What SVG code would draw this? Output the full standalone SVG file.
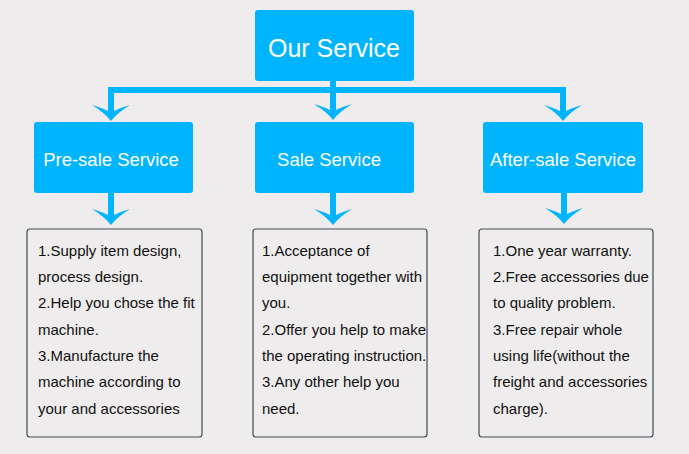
<svg xmlns="http://www.w3.org/2000/svg" width="689" height="454" viewBox="0 0 689 454">
<defs>
<style>
.bg{fill:#eeecec}
.blue{fill:#00b4fd}
.box{fill:#00b4fd}
.hd{font-family:"Liberation Sans",Arial,sans-serif;fill:#ffffff;text-anchor:middle}
.card{fill:#eeecec;stroke:#444a55;stroke-width:1.2}
.tx{font-family:"Liberation Sans",Arial,sans-serif;font-size:15px;fill:#111111}
</style>
<path id="ah" d="M0,0 Q-6,-8 -19,-16 Q-9,-13 -3,-10 L3,-10 Q9,-13 19,-16 Q6,-8 0,0 Z"/>
</defs>
<rect class="bg" x="0" y="0" width="689" height="454"/>
<g id="connectors" class="blue">
<rect x="330" y="80" width="6" height="10"/>
<rect x="108" y="87" width="458" height="6"/>
<rect x="108" y="87" width="6" height="26"/>
<rect x="330" y="87" width="6" height="26"/>
<rect x="560" y="87" width="6" height="26"/>
<use href="#ah" transform="translate(111,121)"/>
<use href="#ah" transform="translate(333,120)"/>
<use href="#ah" transform="translate(563,121)"/>
<rect x="108" y="192" width="6" height="24"/>
<rect x="330" y="192" width="6" height="24"/>
<rect x="561" y="192" width="6" height="24"/>
<use href="#ah" transform="translate(111,225)"/>
<use href="#ah" transform="translate(333,225)"/>
<use href="#ah" transform="translate(564,224)"/>
</g>
<g id="our-service">
<rect class="box" x="255" y="10" width="159" height="71" rx="3"/>
<text class="hd" x="334" y="57" font-size="25">Our Service</text>
</g>
<g id="pre-sale">
<rect class="box" x="34" y="122" width="159" height="71" rx="3"/>
<text class="hd" x="111" y="166" font-size="18.5">Pre-sale Service</text>
</g>
<g id="sale">
<rect class="box" x="255" y="122" width="159" height="71" rx="3"/>
<text class="hd" x="329" y="166" font-size="18.5">Sale Service</text>
</g>
<g id="after-sale">
<rect class="box" x="483" y="122" width="160" height="71" rx="3"/>
<text class="hd" x="563" y="166" font-size="18.5">After-sale Service</text>
</g>
<g id="pre-sale-details">
<rect class="card" x="27" y="229" width="175" height="208" rx="3"/>
<text class="tx">
<tspan x="38" y="256">1.Supply item design,</tspan>
<tspan x="38" y="282">process design.</tspan>
<tspan x="38" y="308">2.Help you chose the fit</tspan>
<tspan x="38" y="335">machine.</tspan>
<tspan x="38" y="361">3.Manufacture the</tspan>
<tspan x="38" y="387">machine according to</tspan>
<tspan x="38" y="414">your and accessories</tspan>
</text>
</g>
<g id="sale-details">
<rect class="card" x="253" y="229" width="174" height="208" rx="3"/>
<text class="tx">
<tspan x="262" y="256">1.Acceptance of</tspan>
<tspan x="262" y="282">equipment together with</tspan>
<tspan x="262" y="308">you.</tspan>
<tspan x="262" y="335">2.Offer you help to make</tspan>
<tspan x="262" y="361">the operating instruction.</tspan>
<tspan x="262" y="387">3.Any other help you</tspan>
<tspan x="262" y="414">need.</tspan>
</text>
</g>
<g id="after-sale-details">
<rect class="card" x="479" y="229" width="174" height="208" rx="3"/>
<text class="tx">
<tspan x="493" y="256">1.One year warranty.</tspan>
<tspan x="493" y="282">2.Free accessories due</tspan>
<tspan x="493" y="308">to quality problem.</tspan>
<tspan x="493" y="335">3.Free repair whole</tspan>
<tspan x="493" y="361">using life(without the</tspan>
<tspan x="493" y="387">freight and accessories</tspan>
<tspan x="493" y="414">charge).</tspan>
</text>
</g>
</svg>
